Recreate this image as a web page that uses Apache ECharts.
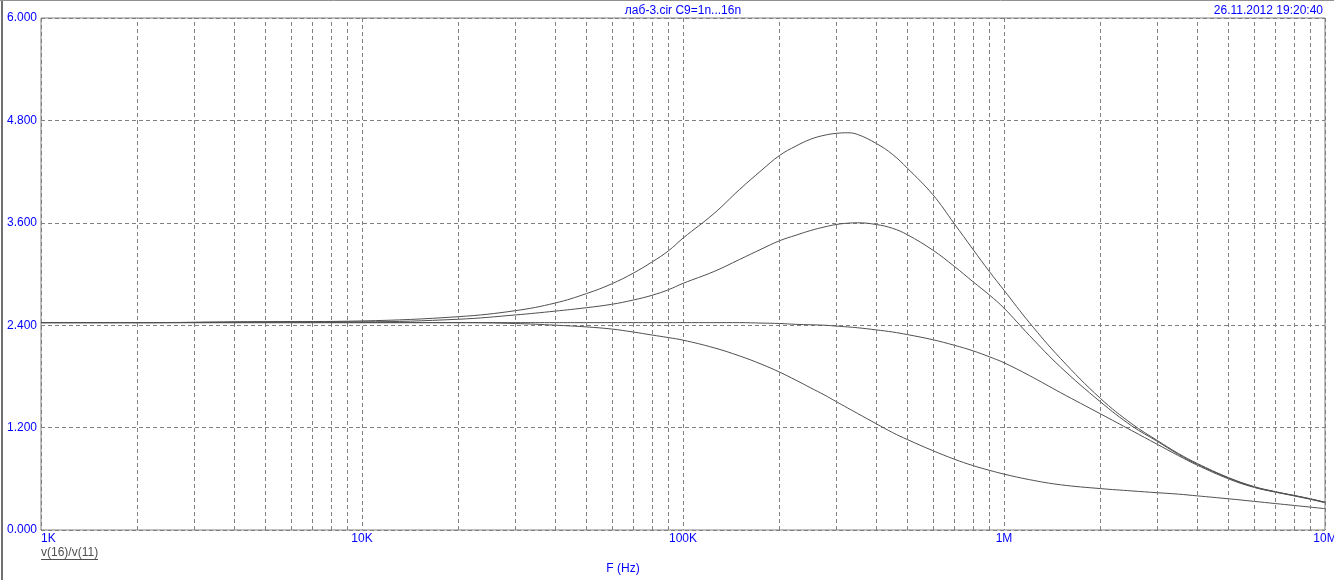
<!DOCTYPE html>
<html>
<head>
<meta charset="utf-8">
<script src="https://cdn.jsdelivr.net/npm/echarts@6/dist/echarts.min.js"></script>
<style>
html,body{margin:0;padding:0;background:#fff;}
#c{width:1334px;height:580px;}
</style>
</head>
<body>
<div id="c"></div>
<script>
// Frequencies (Hz)
const freqs = [1e3, 2e3, 5e3, 1e4, 2e4, 3e4, 4e4, 5e4, 6e4, 7e4, 8e4, 9e4, 1e5, 1.25e5, 1.5e5, 1.75e5, 2e5, 2.25e5, 2.5e5, 2.75e5, 3e5, 3.25e5, 3.5e5, 4e5, 4.5e5, 5e5, 6e5, 7e5, 8e5, 9e5, 1e6, 1.2e6, 1.5e6, 2e6, 2.5e6, 3e6, 3.5e6, 4e6, 5e6, 6e6, 7e6, 8e6, 9e6, 1e7];
// v(16)/v(11) for C9 = 1n ... 16n
const curveA = [2.43, 2.43, 2.44, 2.45, 2.50, 2.57, 2.66, 2.77, 2.885, 3.01, 3.14, 3.27, 3.42, 3.71, 3.99, 4.21, 4.39, 4.50, 4.58, 4.625, 4.648, 4.655, 4.635, 4.53, 4.40, 4.24, 3.93, 3.59, 3.29, 3.03, 2.81, 2.43, 2.01, 1.54, 1.245, 1.05, 0.895, 0.78, 0.615, 0.51, 0.45, 0.405, 0.365, 0.325];
const curveB = [2.43, 2.43, 2.44, 2.44, 2.47, 2.52, 2.565, 2.605, 2.645, 2.695, 2.75, 2.815, 2.89, 3.03, 3.17, 3.29, 3.39, 3.455, 3.51, 3.55, 3.58, 3.595, 3.60, 3.58, 3.535, 3.46, 3.28, 3.09, 2.91, 2.755, 2.60, 2.28, 1.91, 1.50, 1.22, 1.04, 0.885, 0.77, 0.61, 0.505, 0.445, 0.405, 0.365, 0.325];
const curveC = [2.43, 2.43, 2.43, 2.43, 2.43, 2.43, 2.43, 2.43, 2.43, 2.43, 2.43, 2.43, 2.43, 2.43, 2.43, 2.425, 2.42, 2.41, 2.405, 2.40, 2.39, 2.38, 2.37, 2.345, 2.32, 2.29, 2.23, 2.165, 2.10, 2.03, 1.96, 1.81, 1.61, 1.36, 1.165, 1.005, 0.87, 0.76, 0.60, 0.50, 0.445, 0.40, 0.36, 0.32];
const curveD = [2.43, 2.43, 2.43, 2.43, 2.43, 2.42, 2.40, 2.38, 2.355, 2.32, 2.285, 2.255, 2.225, 2.135, 2.04, 1.945, 1.85, 1.755, 1.665, 1.585, 1.505, 1.432, 1.365, 1.245, 1.141, 1.06, 0.93, 0.83, 0.755, 0.70, 0.655, 0.59, 0.53, 0.485, 0.458, 0.437, 0.42, 0.40, 0.366, 0.336, 0.31, 0.288, 0.268, 0.25];
// Tick labels
const xTickValues = [1e3, 1e4, 1e5, 1e6, 1e7];
const xTickLabels = ['1K', '10K', '100K', '1M', '10M'];
const titleText = 'лаб-3.cir C9=1n...16n';
const dateText = '26.11.2012 19:20:40';
const yAxisName = 'v(16)/v(11)';
const xAxisName = 'F (Hz)';

const FONT = '"Liberation Sans", Arial, sans-serif';
const BLUE = '#0000ff';
const GRIDC = '#808080';
const LINEC = '#505050';

// minor vertical grid lines at 2..9 of every decade
const minorX = [];
for (let d = 1e3; d < 1e7; d *= 10) {
  for (let m = 2; m <= 9; m++) minorX.push({ xAxis: d * m });
}

function pairs(vals) { return freqs.map((f, i) => [f, vals[i]]); }

const chart = echarts.init(document.getElementById('c'), null, { renderer: 'canvas' });
const lineSeries = (name, vals) => ({
  name, type: 'line', data: pairs(vals), showSymbol: false, symbol: 'none',
  smooth: 0.4, lineStyle: { color: LINEC, width: 1 }, itemStyle: { color: LINEC },
  silent: true, animation: false, z: 3
});

chart.setOption({
  animation: false,
  backgroundColor: '#fff',
  grid: {
    left: 41, right: 9, top: 18, bottom: 50, containLabel: false, outerBoundsMode: 'none',
    show: true, borderColor: GRIDC, borderWidth: 1, backgroundColor: '#fff'
  },
  xAxis: {
    type: 'log', logBase: 10, min: 1e3, max: 1e7,
    axisLine: { show: false }, axisTick: { show: false },
    splitLine: { show: true, lineStyle: { color: GRIDC, type: [4, 3], width: 1 } },
    axisLabel: {
      color: BLUE, fontFamily: FONT, fontSize: 12, margin: 3,
      showMinLabel: true, showMaxLabel: true, alignMinLabel: 'left', hideOverlap: false,
      formatter: v => { const i = xTickValues.findIndex(t => Math.abs(t - v) / t < 1e-6); return i >= 0 ? xTickLabels[i] : ''; }
    }
  },
  yAxis: {
    type: 'value', min: 0, max: 6, interval: 1.2,
    axisLine: { show: false }, axisTick: { show: false },
    splitLine: { show: true, lineStyle: { color: GRIDC, type: [4, 3], width: 1 } },
    axisLabel: { color: BLUE, fontFamily: FONT, fontSize: 12, margin: 4, formatter: v => v.toFixed(3) }
  },
  series: [
    Object.assign(lineSeries('C1', curveA), {
      markLine: {
        silent: true, symbol: ['none', 'none'], label: { show: false }, animation: false,
        lineStyle: { color: GRIDC, type: [4, 3], width: 1 }, emphasis: { disabled: true },
        data: minorX
      }
    }),
    lineSeries('C2', curveB),
    lineSeries('C3', curveC),
    lineSeries('C4', curveD)
  ],
  graphic: [
    { type: 'line', shape: { x1: 2, y1: 0, x2: 2, y2: 580 }, style: { stroke: '#707070', lineWidth: 2 }, silent: true },
    { type: 'line', shape: { x1: 0, y1: 0.5, x2: 1334, y2: 0.5 }, style: { stroke: '#909090', lineWidth: 1 }, silent: true },
    { type: 'text', x: 683, y: 11, style: { text: titleText, fill: BLUE, font: '12px ' + FONT, textAlign: 'center', textVerticalAlign: 'middle' }, silent: true },
    { type: 'text', x: 1323, y: 11, style: { text: dateText, fill: BLUE, font: '12px ' + FONT, textAlign: 'right', textVerticalAlign: 'middle' }, silent: true },
    { type: 'text', x: 41, y: 553, style: { text: yAxisName, fill: '#505050', font: '12px ' + FONT, textAlign: 'left', textVerticalAlign: 'middle' }, silent: true },
    { type: 'line', shape: { x1: 41, y1: 559.5, x2: 98, y2: 559.5 }, style: { stroke: '#505050', lineWidth: 1 }, silent: true },
    { type: 'text', x: 623, y: 569, style: { text: xAxisName, fill: BLUE, font: '12px ' + FONT, textAlign: 'center', textVerticalAlign: 'middle' }, silent: true }
  ]
});
</script>
</body>
</html>
